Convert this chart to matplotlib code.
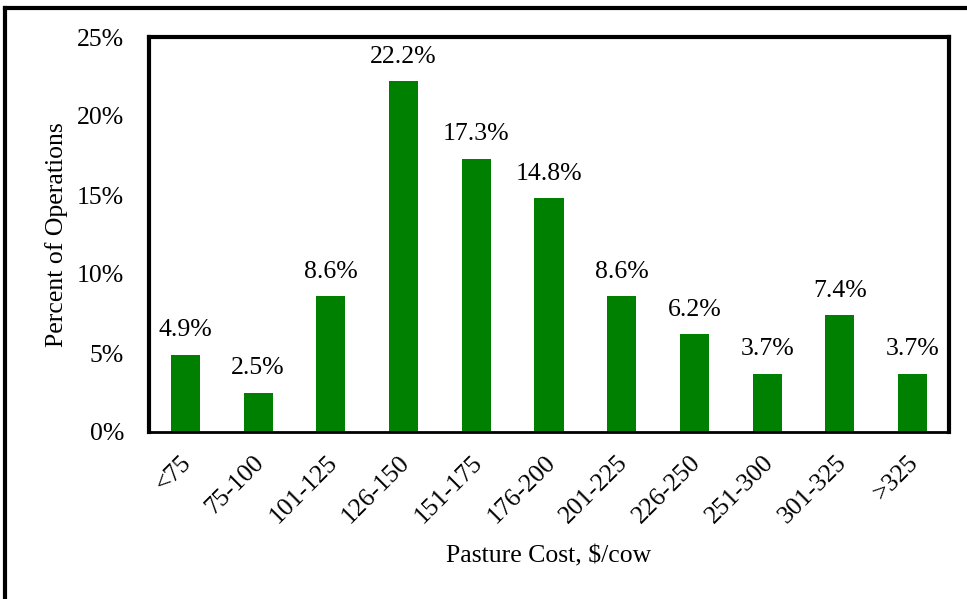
import matplotlib
matplotlib.use("Agg")
import matplotlib.pyplot as plt
from matplotlib.lines import Line2D
from matplotlib.transforms import ScaledTranslation

categories = ["<75", "75-100", "101-125", "126-150", "151-175", "176-200",
              "201-225", "226-250", "251-300", "301-325", ">325"]
values = [4.9, 2.5, 8.6, 22.2, 17.3, 14.8, 8.6, 6.2, 3.7, 7.4, 3.7]
yticks = [0, 5, 10, 15, 20, 25]

plt.rcParams['font.family'] = ['Liberation Serif', 'DejaVu Serif']
FS = 18.5

W, H = 967, 599
fig = plt.figure(figsize=(W/100, H/100), dpi=100)
ax = fig.add_axes([149/W, 1-432/H, (949-149)/W, (432-37)/H])

x = list(range(len(categories)))
ax.bar(x, values, width=0.4, color="#008000")
for xi, v in zip(x, values):
    ax.text(xi, v + 0.85, f"{v:.1f}%", ha="center", va="bottom", fontsize=FS)

ax.set_xlim(-0.5, len(categories) - 0.5)
ax.set_ylim(0, 25)
ax.set_yticks(yticks)
ax.set_yticklabels([f"{t}%" for t in yticks], fontsize=FS)
ax.set_xticks(x)
ax.set_xticklabels(categories, rotation=45, ha="right", rotation_mode="anchor", fontsize=FS)
ax.tick_params(axis="both", length=0)
ax.tick_params(axis="x", pad=14)
ax.tick_params(axis="y", pad=18)
offset = ScaledTranslation(-5/100, 0, fig.dpi_scale_trans)
for lbl in ax.get_xticklabels():
    lbl.set_transform(lbl.get_transform() + offset)
for s in ["top", "left", "right"]:
    ax.spines[s].set_linewidth(3)
ax.spines["bottom"].set_linewidth(2)

fig.text(57/W, 1-235/H, "Percent of Operations", rotation=90, ha="center", va="center", fontsize=FS)
fig.text(549/W, 1-556/H, r"Pasture Cost, \$/cow", ha="center", va="center", fontsize=FS)

# outer frame (top and left visible, cut on right/bottom)
fig.add_artist(Line2D([5/W, 1.0], [1-8/H, 1-8/H], color="black", lw=3, transform=fig.transFigure))
fig.add_artist(Line2D([5/W, 5/W], [0, 1-8/H], color="black", lw=3, transform=fig.transFigure))

fig.savefig("out.png", dpi=100)
